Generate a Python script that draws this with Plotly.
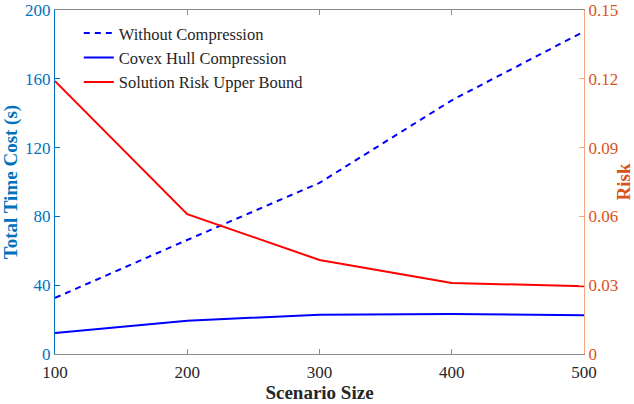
import plotly.graph_objects as go

scenario_size = [100, 200, 300, 400, 500]
without_compression = [32.6, 66.3, 99.5, 147.5, 187.5]
convex_hull = [12.2, 19.4, 22.8, 23.3, 22.6]
risk_upper_bound = [0.119, 0.061, 0.041, 0.031, 0.0295]

left_ticks = [0, 40, 80, 120, 160, 200]
right_ticks = [0, 0.03, 0.06, 0.09, 0.12, 0.15]
right_tick_text = ["0", "0.03", "0.06", "0.09", "0.12", "0.15"]
x_ticks = [100, 200, 300, 400, 500]

BLUE_AX = "#0072BD"
ORANGE_AX = "#D95319"
FONT = "Liberation Serif"

fig = go.Figure()
fig.add_trace(go.Scatter(x=scenario_size, y=without_compression, mode="lines",
                         name="Without Compression",
                         line=dict(color="#0000FF", width=2, dash="6px,5px")))
fig.add_trace(go.Scatter(x=scenario_size, y=convex_hull, mode="lines",
                         name="Covex Hull Compression",
                         line=dict(color="#0000FF", width=2)))
fig.add_trace(go.Scatter(x=scenario_size, y=risk_upper_bound, mode="lines",
                         name="Solution Risk Upper Bound", yaxis="y2",
                         line=dict(color="#FF0000", width=2)))

fig.update_layout(
    width=634, height=404,
    margin=dict(l=55, r=50, t=10, b=50),
    paper_bgcolor="white", plot_bgcolor="white",
    font=dict(family=FONT, size=17, color="#262626"),
    showlegend=True,
    legend=dict(x=0.045, y=0.983, xanchor="left", yanchor="top",
                bgcolor="rgba(0,0,0,0)", borderwidth=0,
                font=dict(family=FONT, size=16.5, color="#262626"),
                tracegroupgap=0, itemwidth=30),
    xaxis=dict(range=[100, 500], tickvals=x_ticks, ticks="inside", ticklen=5,
               tickcolor="#8c8c8c", showline=True, linecolor="#8c8c8c", linewidth=1,
               mirror="ticks", showgrid=False, zeroline=False, automargin=False,
               ticklabelstandoff=3,
               tickfont=dict(family=FONT, size=17, color="#262626"),
               title=dict(text="<b>Scenario Size</b>", standoff=0,
                          font=dict(family=FONT, size=19, color="#262626"))),
    yaxis=dict(range=[0, 200], tickvals=left_ticks, ticks="inside", ticklen=5,
               tickcolor=BLUE_AX, showline=True, linecolor=BLUE_AX, linewidth=1,
               showgrid=False, zeroline=False, automargin=False,
               tickfont=dict(family=FONT, size=17, color=BLUE_AX),
               title=dict(text="<b>Total Time Cost (s)</b>", standoff=6,
                          font=dict(family=FONT, size=19, color=BLUE_AX))),
    yaxis2=dict(range=[0, 0.15], tickvals=right_ticks, ticktext=right_tick_text,
                overlaying="y", side="right", ticks="inside", ticklen=5,
                tickcolor="#F4A582", showline=True, linecolor="#F4A582", linewidth=1,
                showgrid=False, zeroline=False, automargin=False,
                tickfont=dict(family=FONT, size=17, color=ORANGE_AX),
                title=dict(text="<b>Risk</b>", standoff=3,
                           font=dict(family=FONT, size=19, color=ORANGE_AX))),
)

fig.write_html("out.html", config={"displayModeBar": False})

with open("out.html", "r", encoding="utf-8") as f:
    html = f.read()
html = html.replace("<head>", "<head><style>html,body{margin:0;padding:0;overflow:hidden;}</style>", 1)
with open("out.html", "w", encoding="utf-8") as f:
    f.write(html)
